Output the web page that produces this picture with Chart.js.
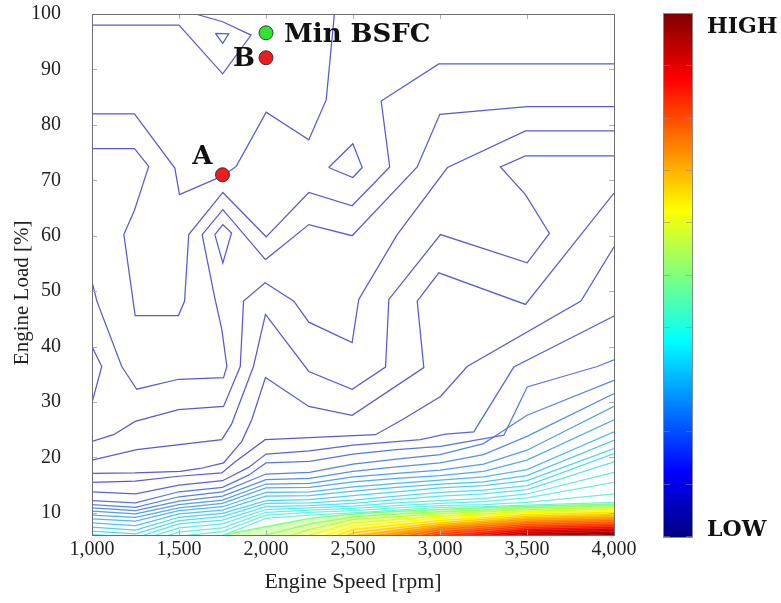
<!DOCTYPE html>
<html>
<head>
<meta charset="utf-8">
<script src="https://cdn.jsdelivr.net/npm/chart.js@4.4.1/dist/chart.umd.min.js"></script>
<style>
html,body{margin:0;padding:0;background:#fff;}
#wrap{position:relative;width:781px;height:603px;overflow:hidden;background:#fff;}
#c{position:absolute;left:0;top:0;}
#cbar{position:absolute;left:663px;top:13px;width:28px;height:523px;border:1px solid #8a8a8a;
 background:linear-gradient(to bottom,#800000 0%,#ff0000 12.5%,#ffff00 37.5%,#00ffff 62.5%,#0000ff 87.5%,#000080 100%);}
.cbt{position:absolute;top:0;width:6px;height:100%;
 background:repeating-linear-gradient(to bottom,rgba(0,0,0,0) 0px,rgba(0,0,0,0) 51.3px,rgba(140,140,140,0.55) 51.3px,rgba(140,140,140,0.55) 52.3px);}
.cbl{position:absolute;left:707px;font-family:'DejaVu Serif',serif;font-weight:bold;font-size:22px;line-height:24px;color:#111;white-space:nowrap;}
</style>
</head>
<body>
<div id="wrap">
<canvas id="c" width="781" height="603"></canvas>
<div id="cbar"><div class="cbt" style="left:0"></div><div class="cbt" style="right:0"></div></div>
<div class="cbl" style="top:13px">HIGH</div>
<div class="cbl" style="top:516px">LOW</div>
</div>
<script>
// ---------- axis ticks ----------
const xTicks = [1000, 1500, 2000, 2500, 3000, 3500, 4000];
const yTicks = [10, 20, 30, 40, 50, 60, 70, 80, 90, 100];

// ---------- marked operating points ----------
const markerNames = ['Min BSFC', 'B', 'A'];
const markerRpm   = [2000, 2000, 1750];
const markerLoad  = [96.6, 92.1, 71.0];
const markerFill  = ['#2fe52f', '#ee1c1c', '#ee1c1c'];

// ---------- upper contour lines [rpm, load] ----------
const lineA = [[1000,98.0],[1500,98.0],[1751,89.2],[1914,96.2],[1751,98.6],[1594,100]];
const islandA = [[1709,96.5],[1786,96.4],[1751,94.7],[1709,96.5]];
const lineB = [[2393,100],[2346,84.5],[2246,77.3],[2001,82.3],[1829,72.5],[1751,70.8],[1503,67.4],[1476,72.2],[1244,82.0],[1000,82.0]];
const islandB = [[2360,72.3],[2499,76.6],[2553,72.3],[2499,70.5],[2360,72.3]];
const lineC = [[4000,91.0],[2993,91.0],[2662,84.3],[2711,72.4],[2495,65.4],[2246,67.8],[2001,59.8],[1752,67.8],[1556,60.2],[1532,48.2],[1497,45.6],[1248,45.6],[1183,60.2],[1244,64.6],[1326,72.5],[1244,75.7],[1000,75.7]];
const lineD = [[4000,83.3],[3501,83.3],[2999,81.9],[2869,72.4],[2495,60.0],[2246,62.0],[1997,55.7],[1752,64.7],[1633,60.2],[1704,49.0],[1746,43.1],[1775,36.4],[1756,34.4],[1497,34.1],[1257,32.3],[1171,36.4],[1028,48.2],[1000,51.7]];
const islandD = [[1706,60.2],[1752,62.0],[1802,60.5],[1752,55.1],[1706,60.2]];
const lineE = [[4000,78.9],[3491,78.9],[3043,72.3],[2754,60.2],[2533,48.5],[2495,40.7],[2246,44.4],[2160,48.2],[1995,51.5],[1871,48.2],[1852,36.4],[1756,29.2],[1497,28.6],[1248,26.5],[1124,24.1],[1000,22.9]];
const lineF = [[4000,74.4],[3491,74.4],[3347,72.4],[3491,67.4],[3629,60.4],[3501,55.1],[3003,60.2],[2706,48.5],[2687,36.3],[2495,32.3],[2246,35.5],[1997,45.8],[1928,36.4],[1802,26.0],[1746,23.2],[1257,21.4],[1000,19.5]];
const lineG = [[4000,67.7],[3491,47.6],[2993,53.3],[2869,48.2],[2907,36.2],[2495,27.6],[2246,29.2],[1997,34.4],[1918,26.8],[1861,22.9],[1756,19.0],[1622,18.0],[1507,17.5],[1248,17.2],[1000,17.1]];
const lineH = [[4000,58.0],[3810,48.2],[3156,36.4],[3003,31.0],[2783,26.8],[2629,24.1],[1995,23.2],[1823,19.2],[1746,17.2],[1497,16.6],[1248,15.7],[1000,15.5]];
const edgeLoop = [[1000,40.0],[1056,36.4],[1000,29.9]];
const lineI = [[4000,45.5],[3424,36.3],[3194,24.6],[3032,24.2],[2888,23.2],[2500,22.2],[2250,21.2],[2000,20.6],[1900,18.2],[1750,15.8],[1500,15.0],[1250,13.4],[1000,13.8]];
const lineJ = [[4000,37.6],[3903,36.4],[3501,32.7],[3367,24.0],[3003,22.0],[2750,21.4],[2500,20.6],[2250,19.3],[2000,19.0],[1900,16.8],[1750,14.6],[1500,13.8],[1250,11.8],[1000,12.2]];

// ---------- lower (blue -> cyan) contour family ----------
const kRpm = [1000,1250,1500,1750,2000,2250,2500,2750,3000,3250,3500,4000];
const k1  = [11.5,11.0,12.9,13.8,17.0,17.3,18.8,19.7,20.5,22.5,27.6,33.9];
const k2  = [10.9,10.4,12.1,13.0,16.0,16.2,17.5,18.3,19.0,20.5,23.8,31.5];
const k3  = [10.3, 9.8,11.5,12.3,15.2,15.3,16.5,17.1,17.7,18.8,21.3,29.2];
const k4  = [ 9.6, 9.2,10.9,11.7,14.5,14.6,15.6,16.2,16.7,17.5,19.5,26.8];
const k5  = [ 8.9, 8.5,10.4,11.1,13.7,13.8,14.7,15.3,15.9,16.5,17.8,24.6];
const k6  = [ 8.2, 7.7, 9.8,10.5,13.0,13.1,13.9,14.6,15.2,15.6,16.7,23.1];
const k7  = [ 7.4, 6.9, 9.2, 9.9,12.2,12.4,13.1,13.8,14.5,14.9,15.8,21.6];
const k8  = [ 6.7, 6.2, 8.6, 9.3,11.7,11.8,12.3,13.0,13.7,14.1,14.9,20.7];
const k9  = [ 6.1, 5.5, 8.0, 8.7,11.1,11.3,11.7,12.4,13.0,13.4,14.2,19.2];
const k10 = [ 5.5, 4.8, 7.3, 8.0,10.6,10.9,11.2,11.8,12.2,12.6,13.4,17.3];
const k11 = [ 5.0, 4.2, 6.5, 7.3,10.1,10.5,10.8,11.3,11.7,12.0,12.7,15.5];
const k12 = [ 4.5, 3.6, 5.8, 6.6, 9.6,10.1,10.4,10.9,11.3,11.5,11.9,13.4];
const k13 = [ 4.0, 3.0, 5.0, 5.9, 9.0, 9.6,10.0,10.5,11.0,11.1,11.4,11.9];

// ---------- high-value (green -> red) contour family ----------
const wRpm = [1750,2000,2250,2500,2750,3000,3250,3500,4000];
const w1  = [6.0, 7.5, 9.0, 9.8,10.3,10.6,10.9,11.2,11.6];
const w2  = [4.5, 6.0, 8.0, 9.3, 9.8,10.2,10.5,10.9,11.3];
const w3  = [null,4.5, 7.0, 8.8, 9.3, 9.8,10.2,10.6,11.0];
const w4  = [null,3.0, 6.0, 8.2, 8.8, 9.4, 9.8,10.3,10.7];
const w5  = [null,null,5.0, 7.6, 8.3, 9.0, 9.5,10.0,10.4];
const w6  = [null,null,4.0, 7.0, 7.8, 8.6, 9.1, 9.7,10.1];
const w7  = [null,null,3.0, 6.4, 7.3, 8.2, 8.8, 9.4, 9.8];
const w8  = [null,null,2.0, 5.8, 6.9, 7.9, 8.5, 9.1, 9.5];
const w9  = [null,null,1.0, 5.2, 6.4, 7.6, 8.2, 8.8, 9.2];
const w10 = [null,null,null,4.6, 6.0, 7.3, 7.9, 8.5, 8.9];
const w11 = [null,null,null,4.0, 5.5, 7.0, 7.6, 8.2, 8.6];
const w12 = [null,null,null,3.4, 5.0, 6.6, 7.2, 7.9, 8.3];
const w13 = [null,null,null,2.8, 4.5, 6.2, 6.9, 7.6, 8.0];
const w14 = [null,null,null,2.2, 4.0, 5.8, 6.5, 7.3, 7.7];
const w15 = [null,null,null,1.6, 3.5, 5.4, 6.2, 7.0, 7.4];
const w16 = [null,null,null,null,3.0, 5.0, 5.8, 6.7, 7.1];
const w17 = [null,null,null,null,2.5, 4.6, 5.5, 6.4, 6.8];
const w18 = [null,null,null,null,2.0, 4.2, 5.1, 6.1, 6.5];
const w19 = [null,null,null,null,1.5, 3.8, 4.8, 5.8, 6.3];
const w20 = [null,null,null,null,1.0, 3.4, 4.4, 5.5, 6.1];

// ---------- styling ----------
const upperColor = '#5a5ad0';
const upperLines = [lineA, islandA, lineB, islandB, lineC, lineD, islandD, lineE, lineF, lineG, lineH, edgeLoop];
const kLines = [k1,k2,k3,k4,k5,k6,k7,k8,k9,k10,k11,k12,k13];
const kColors = ['#5882e0','#5590e4','#529ee8','#50acea','#4ebaec','#4cc6ee','#4ed2ee','#52dcee','#58e4ec','#5eeaea','#64eee6','#6af2e0','#70f4d8'];
const wLines = [w1,w2,w3,w4,w5,w6,w7,w8,w9,w10,w11,w12,w13,w14,w15,w16,w17,w18,w19,w20];
const wColors = ['#80ff80','#a0ff60','#c0ff40','#e0ff20','#ffff00','#ffe800','#ffd000','#ffb800','#ffa000','#ff8800',
                 '#ff7000','#ff5800','#ff4000','#ff2800','#f01000','#e00000','#c80000','#b00000','#980000','#800000'];

function tint(hex, a) {
  const n = parseInt(hex.slice(1), 16);
  return 'rgba(' + ((n >> 16) & 255) + ',' + ((n >> 8) & 255) + ',' + (n & 255) + ',' + a + ')';
}

const datasets = [];
markerNames.forEach((n, i) => {
  datasets.push({label: n, data: [{x: markerRpm[i], y: markerLoad[i]}], showLine: false,
    pointRadius: 7, pointBackgroundColor: markerFill[i], pointBorderColor: '#333', pointBorderWidth: 1, order: -1});
});
function addPairs(pts, color, w, fill, bg) {
  datasets.push({data: pts.map(p => ({x: p[0], y: p[1]})), showLine: true, borderColor: color,
    borderWidth: w, pointRadius: 0, tension: 0, fill: fill || false, backgroundColor: bg || 'rgba(0,0,0,0)'});
}
function addGrid(xs, ys, color, w, fill, bg) {
  const pts = [];
  xs.forEach((x, i) => { if (ys[i] !== null) pts.push([x, ys[i]]); });
  addPairs(pts, color, w, fill, bg);
}
upperLines.forEach(l => addPairs(l, upperColor, 1.25));
addPairs(lineI, '#5b66d6', 1.25);
addPairs(lineJ, '#5a74dc', 1.25);
kLines.forEach((l, i) => addGrid(kRpm, l, kColors[i], 1.25));
wLines.forEach((l, i) => {
  addGrid(wRpm, l, wColors[i], 1.5, '-1', tint(wColors[i], i < 8 ? 0.4 : 0.7));
});
datasets[datasets.length - 20].fill = false;
datasets[datasets.length - 1].fill = 'start';
datasets[datasets.length - 1].backgroundColor = tint('#800000', 0.85);

const serif = "'Liberation Serif', 'Times New Roman', serif";

const framePlugin = {
  id: 'frame',
  afterDatasetsDraw(chart) {
    const {ctx, chartArea: a, scales} = chart;
    ctx.save();
    ctx.strokeStyle = '#b0b0b0';
    ctx.lineWidth = 1;
    ctx.beginPath();
    xTicks.forEach(v => {
      const px = Math.round(scales.x.getPixelForValue(v)) + 0.5;
      ctx.moveTo(px, a.bottom); ctx.lineTo(px, a.bottom - 5);
      ctx.moveTo(px, a.top); ctx.lineTo(px, a.top + 5);
    });
    yTicks.forEach(v => {
      const py = Math.round(scales.y.getPixelForValue(v)) + 0.5;
      ctx.moveTo(a.left, py); ctx.lineTo(a.left + 5, py);
      ctx.moveTo(a.right, py); ctx.lineTo(a.right - 5, py);
    });
    ctx.stroke();
    ctx.strokeStyle = '#6e6e6e';
    ctx.strokeRect(Math.round(a.left) + 0.5, Math.round(a.top) + 0.5, Math.round(a.right - a.left), Math.round(a.bottom - a.top));
    // point labels
    ctx.fillStyle = '#111';
    ctx.font = "bold 26px 'DejaVu Serif', serif";
    ctx.textBaseline = 'middle';
    const offs = [[18, 2, 'left'], [-11, 1, 'right'], [-10, -17, 'right']];
    markerNames.forEach((n, i) => {
      const px = scales.x.getPixelForValue(markerRpm[i]);
      const py = scales.y.getPixelForValue(markerLoad[i]);
      ctx.textAlign = offs[i][2];
      ctx.fillText(n, px + offs[i][0], py + offs[i][1]);
    });
    ctx.restore();
  }
};

new Chart(document.getElementById('c'), {
  type: 'scatter',
  data: {datasets},
  options: {
    responsive: false,
    animation: false,
    events: [],
    layout: {padding: {top: 14, right: 167, left: 0, bottom: 0}},
    plugins: {legend: {display: false}, tooltip: {enabled: false}, filler: {propagate: false}},
    scales: {
      x: {
        type: 'linear', min: 1000, max: 4000,
        afterBuildTicks: s => { s.ticks = xTicks.map(v => ({value: v})); },
        afterFit: s => { s.height = 68; },
        grid: {display: false, drawTicks: false},
        border: {display: false},
        ticks: {font: {family: serif, size: 20}, color: '#222', padding: 3, maxRotation: 0},
        title: {display: true, text: 'Engine Speed [rpm]', font: {family: serif, size: 22}, color: '#222', padding: {top: 0, bottom: 8}}
      },
      y: {
        type: 'linear', min: 6, max: 100,
        afterBuildTicks: s => { s.ticks = yTicks.map(v => ({value: v})); },
        afterFit: s => { s.width = 92; s.paddingTop = 10; s.paddingBottom = 10; },
        grid: {display: false, drawTicks: false},
        border: {display: false},
        ticks: {font: {family: serif, size: 20}, color: '#222', padding: 31},
        title: {display: true, text: 'Engine Load [%]       ', font: {family: serif, size: 21}, color: '#222', padding: {top: 10, bottom: 0}}
      }
    }
  },
  plugins: [framePlugin]
});
</script>
</body>
</html>
